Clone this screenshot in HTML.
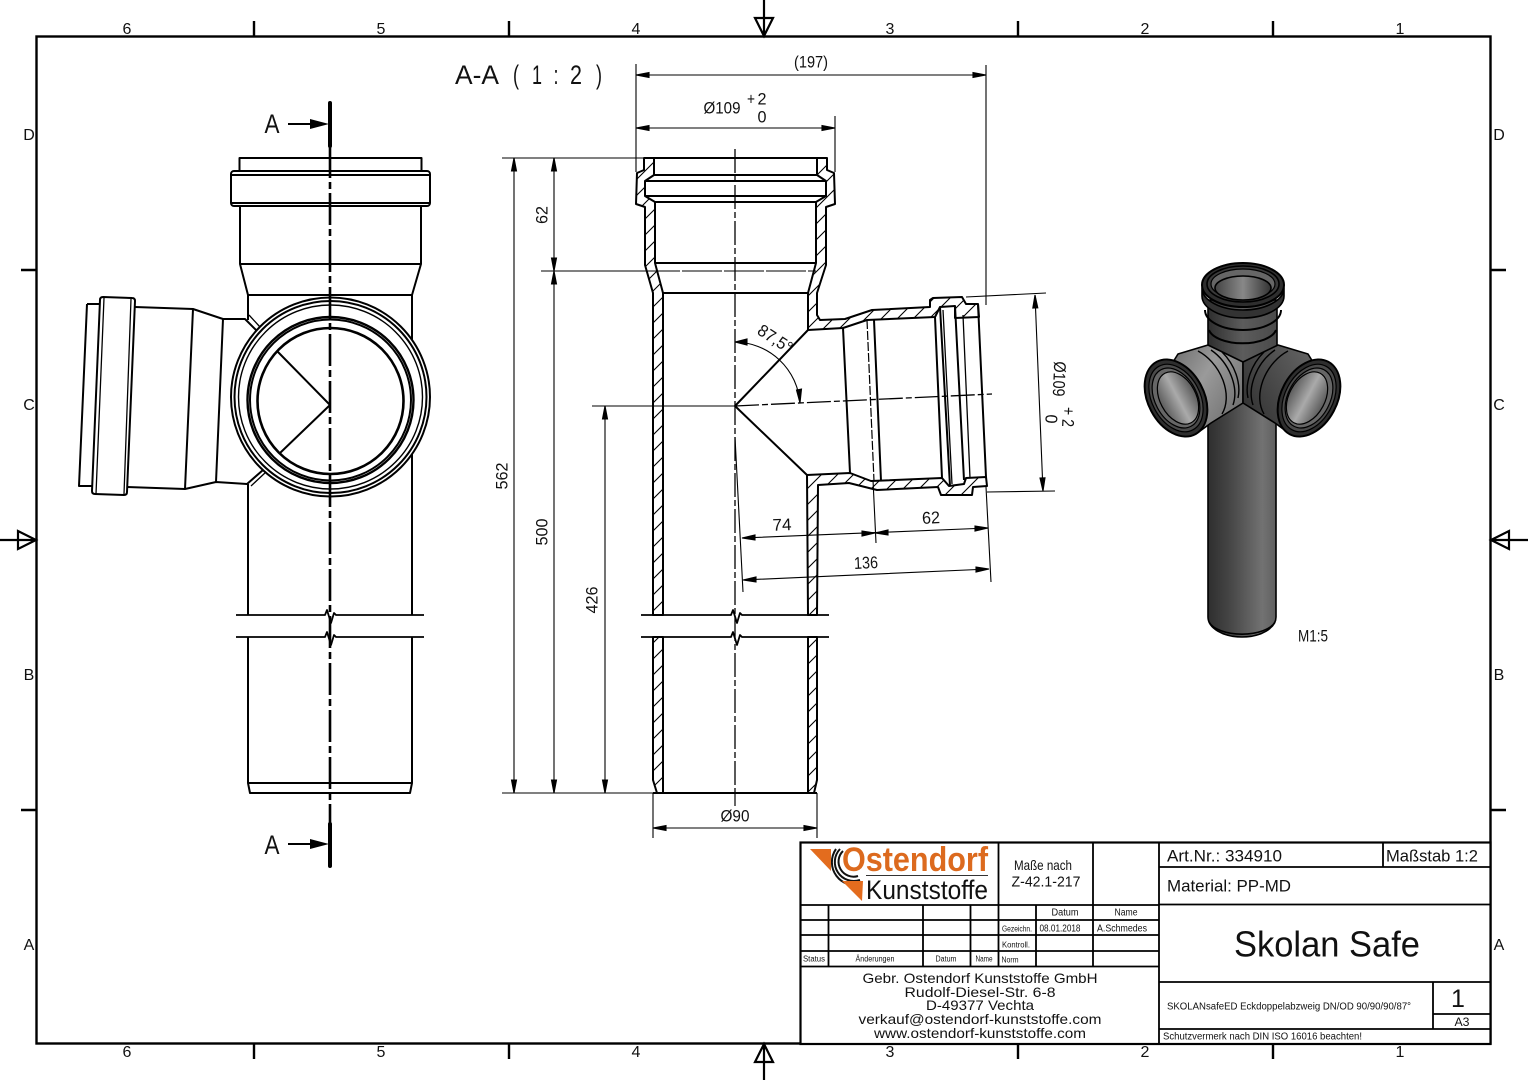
<!DOCTYPE html>
<html><head><meta charset="utf-8"><style>
html,body{margin:0;padding:0;background:#fff}
svg{display:block}
text{font-family:"Liberation Sans",sans-serif;fill:#111;text-anchor:middle;dominant-baseline:central}
.o{fill:none;stroke:#000;stroke-width:2;stroke-linejoin:round}
.t{fill:none;stroke:#000;stroke-width:1.1}
.f{stroke:#000;stroke-width:1.1;fill:#000}
.w{stroke:#000;stroke-width:2;stroke-linejoin:round;fill:url(#h)}
</style></head><body>
<svg width="1528" height="1080" viewBox="0 0 1528 1080" xmlns="http://www.w3.org/2000/svg">
<defs>
<pattern id="h" patternUnits="userSpaceOnUse" width="16" height="16"><path d="M-2 18L18 -2M-2 2L2 -2M14 18L18 14" stroke="#000" stroke-width="1.1"/></pattern>
<linearGradient id="pipe" x1="0" x2="1" y1="0" y2="0"><stop offset="0" stop-color="#2e2e2e"/><stop offset=".35" stop-color="#484848"/><stop offset=".8" stop-color="#727272"/><stop offset="1" stop-color="#606060"/></linearGradient>
<linearGradient id="neck" x1="0" x2="1" y1="0" y2="0"><stop offset="0" stop-color="#2e2e2e"/><stop offset=".5" stop-color="#5c5c5c"/><stop offset="1" stop-color="#4a4a4a"/></linearGradient>
<linearGradient id="arm" x1="0" x2="1" y1="0" y2=".7"><stop offset="0" stop-color="#666"/><stop offset=".5" stop-color="#9a9a9a"/><stop offset="1" stop-color="#707070"/></linearGradient>
<linearGradient id="arm2" x1="1" x2="0" y1="0" y2=".7"><stop offset="0" stop-color="#6a6a6a"/><stop offset=".55" stop-color="#4c4c4c"/><stop offset="1" stop-color="#333"/></linearGradient>
<linearGradient id="hole" x1="0" x2="1" y1="0" y2="0"><stop offset="0" stop-color="#5c5c5c"/><stop offset=".5" stop-color="#aaa"/><stop offset="1" stop-color="#5a5a5a"/></linearGradient>
<linearGradient id="hole2" x1="0" x2="1" y1="0" y2="0"><stop offset="0" stop-color="#444"/><stop offset=".5" stop-color="#888"/><stop offset="1" stop-color="#333"/></linearGradient>
</defs>

<!-- frame -->
<rect x="36.500" y="36.500" width="1454" height="1007" fill="none" stroke="#000" stroke-width="2.400"/>
<path d="M254 21V36M509 21V36M1018 21V36M1273 21V36M254 1044V1059M509 1044V1059M1018 1044V1059M1273 1044V1059M21 270H36M21 810H36M1491 270H1506M1491 810H1506" stroke="#000" stroke-width="2.400" fill="none"/>
<path d="M764 0V36M764 1044V1080M0 540H36M1491 540H1528M755 18H773L764 36ZM755 1062H773L764 1044ZM18 531V549L36 540ZM1509 531V549L1491 540Z" fill="none" stroke="#000" stroke-width="2.200"/>
<g font-size="16">
<text x="127" y="29.500">6</text><text x="381" y="29.500">5</text><text x="636" y="29.500">4</text><text x="890" y="29.500">3</text><text x="1145" y="29.500">2</text><text x="1400" y="29.500">1</text>
<text x="127" y="1052.500">6</text><text x="381" y="1052.500">5</text><text x="636" y="1052.500">4</text><text x="890" y="1052.500">3</text><text x="1145" y="1052.500">2</text><text x="1400" y="1052.500">1</text>
<text x="29" y="135.500">D</text><text x="29" y="405.500">C</text><text x="29" y="675.500">B</text><text x="29" y="945.500">A</text>
<text x="1499" y="135.500">D</text><text x="1499" y="405.500">C</text><text x="1499" y="675.500">B</text><text x="1499" y="945.500">A</text>
</g>

<!-- left view -->
<g class="o">
<rect x="239.500" y="158" width="182" height="13"/>
<rect x="231" y="171" width="199" height="35" rx="3"/>
<path d="M232 175H429M232 203H429"/>
<path d="M240 206V264L248 295M421 206V264L412 295M240 264H421M248 295H412"/>
<path d="M248 295V320M412 295V615M248 484V615M248 637V783L250 793H410L412 783V637M248 783H412"/>
<path d="M236 615H325L327 610L331 623L334 613L336 615H424M236 637H325L327 632L331 645L334 635L336 637H424" stroke-width="1.800"/>
<!-- branch -->
<path d="M87 304L79 486H92M87 304H100"/>
<path d="M100 300Q100 297 103 297L132 298Q135 298 135 301L127 492Q127 495 124 495L95 494Q92 494 92 491Z" fill="#fff"/>
<path d="M104 298L96 494M131 299L124 494" stroke-width="1.300"/>
<path d="M135 307L193 309L223 319L245 319L257 331M127 487L185 489L216 482L247 484L263 470"/>
<path d="M193 309L185 489M223 319L216 482"/>
<path d="M249 315L260 327M251 486L266 472" stroke-width="1.300"/>
<!-- circles -->
<circle cx="330.500" cy="397" r="99.500" fill="#fff"/>
<circle cx="330.500" cy="397" r="96"/>
<circle cx="330.500" cy="397" r="92" stroke-width="1.400"/>
<circle cx="330.500" cy="400" r="83" stroke-width="2.400"/>
<circle cx="330.500" cy="400" r="80.500" stroke-width="2"/>
<circle cx="330.500" cy="401" r="73" stroke-width="2.600"/>
<path d="M278 352L330 405L280 453"/>
</g>
<path d="M330 146V824" stroke="#000" stroke-width="2.600" fill="none" stroke-dasharray="32 4 7 4"/>
<path d="M330 103V146M330 824V866" stroke="#000" stroke-width="4" stroke-linecap="round"/>
<path d="M288 124H312M288 844H312" stroke="#000" stroke-width="2"/>
<path d="M310 119L329 124L310 129ZM310 839L329 844L310 849Z" fill="#000"/>
<text x="272" y="124" font-size="27" textLength="15" lengthAdjust="spacingAndGlyphs">A</text>
<text x="272" y="845" font-size="27" textLength="15" lengthAdjust="spacingAndGlyphs">A</text>

<!-- section -->
<g font-size="27">
<text x="477" y="75" textLength="44" lengthAdjust="spacingAndGlyphs">A-A</text>
<text x="516" y="75" textLength="6" lengthAdjust="spacingAndGlyphs">(</text>
<text x="537" y="75" textLength="10" lengthAdjust="spacingAndGlyphs">1</text>
<text x="556" y="75" textLength="5" lengthAdjust="spacingAndGlyphs">:</text>
<text x="576" y="75" textLength="12" lengthAdjust="spacingAndGlyphs">2</text>
<text x="599" y="75" textLength="6" lengthAdjust="spacingAndGlyphs">)</text>
</g>
<g class="w">
<polygon points="644,158 644,170 637,173 636,204 645,207 645,265 653,293 653,615 663,615 663,293 655,263 655,202 645,196 645,181 654,175 654,158"/>
<polygon points="653,637 653,780 657,793 663,793 663,637"/>
<polygon points="827,158 827,170 834,173 835,204 826,207 826,265 817,293 817,315 820,320 845,319 872,310 930,307 930,300 933,298 962,297 966,304 978,304 979,317 955,318 955,306 940,307 935,317 867,320 843,328 808,330 808,293 816,263 816,202 826,196 826,181 817,175 817,158"/>
<polygon points="807,475 850,473 871,481 942,478 949,486 964,484 966,478 986,477 987,486 973,487 972,495 941,495 938,487 877,490 849,483 818,485 817,615 808,615"/>
<polygon points="808,637 808,793 814,793 817,780 817,637"/>
</g>
<g class="o">
<path d="M644 158H827M654 175H817M645 181H826M645 196H826M655 202H816M655 263H816M663 293H808M653 793H817" />
<path d="M808 330L735 406L807 475"/>
<path d="M843 328L850 473M874 320L881 481M935 317L942 478M940 307L950 486M955 306L964 480M978 304L986 477"/>
<path d="M943 310L952 484M963 315L970 478" stroke-width="1.300"/>
<path d="M641 615H731L733 610L737 623L740 613L742 615H829M641 637H731L733 632L737 645L740 635L742 637H829" stroke-width="1.800"/>
</g>
<path d="M867 320L874 481" stroke="#000" stroke-width="1.200" stroke-dasharray="9 2" fill="none"/>
<path d="M735 149V793" stroke="#000" stroke-width="1.300" fill="none" stroke-dasharray="24 3 6 3"/>
<path d="M735 406L992 394" stroke="#000" stroke-width="1.300" fill="none" stroke-dasharray="24 3 6 3"/>
<path d="M735 793V806" stroke="#000" stroke-width="1.200"/>

<!-- dims -->
<g class="t">
<path d="M636 64V172M986 65V305M835 116V172M636 75H986M636 128H835"/>
<path d="M502 158H644M541 271H640M592 406H735M502 793H653M514 158V793M554 158V793M605 406V793"/>
<path d="M653 793V838M817 793V838M653 828H817"/>
<path d="M966 297L1046 293M987 492L1055 491M1035 295L1043 491"/>
<path d="M735 437L743 592M873 480L876 543M986 487L991 582M742 538L988 528M743 580L989 569"/>
<path d="M735 342A66 66 0 0 1 800 403"/>
<path d="M640 271H816" stroke-dasharray="40 2"/>
</g>
<g class="f">
<path d="M636 75l13-2.500v5zM986 75l-13-2.500v5zM636 128l13-2.500v5zM835 128l-13-2.500v5z"/>
<path d="M514 158l-2.500 13h5zM514 793l-2.500-13h5zM554 158l-2.500 13h5zM554 271l-2.500-13h5zM554 271l-2.500 13h5zM554 793l-2.500-13h5zM605 406l-2.500 13h5zM605 793l-2.500-13h5z"/>
<path d="M653 828l13-2.500v5zM817 828l-13-2.500v5z"/>
<path d="M1035 295l-2.200 13 5-.2zM1043 491l-3-13 5-.2z"/>
<path d="M742 538l13-3v5zM875 533l-13-2v5zM875 533l13-3v5zM988 528l-13-2v5zM743 580l13-3v5zM989 569l-13-2v5z"/>
<path d="M735 342l12-3v6zM800 403l-3.500-13 5-1z"/>
</g>
<g font-size="17">
<text x="811" y="62" textLength="34" lengthAdjust="spacingAndGlyphs">(197)</text>
<text x="722" y="108" textLength="37" lengthAdjust="spacingAndGlyphs">Ø109</text>
<text x="751" y="99" textLength="8" lengthAdjust="spacingAndGlyphs">+</text><text x="762" y="99" textLength="9" lengthAdjust="spacingAndGlyphs">2</text><text x="762" y="117" textLength="9" lengthAdjust="spacingAndGlyphs">0</text>
<text transform="translate(502,476) rotate(-90)" textLength="27" lengthAdjust="spacingAndGlyphs">562</text>
<text transform="translate(542,215) rotate(-90)" textLength="18" lengthAdjust="spacingAndGlyphs">62</text>
<text transform="translate(542,532) rotate(-90)" textLength="27" lengthAdjust="spacingAndGlyphs">500</text>
<text transform="translate(592,600) rotate(-90)" textLength="27" lengthAdjust="spacingAndGlyphs">426</text>
<text x="735" y="816" textLength="29" lengthAdjust="spacingAndGlyphs">Ø90</text>
<text transform="translate(775,339) rotate(33)" textLength="38" lengthAdjust="spacingAndGlyphs">87,5°</text>
<text transform="translate(782,525) rotate(-2.500)" textLength="19" lengthAdjust="spacingAndGlyphs">74</text>
<text transform="translate(931,518) rotate(-2.500)" textLength="18" lengthAdjust="spacingAndGlyphs">62</text>
<text transform="translate(866,563) rotate(-2.500)" textLength="24" lengthAdjust="spacingAndGlyphs">136</text>
<text transform="translate(1059,379) rotate(92.500)" textLength="35" lengthAdjust="spacingAndGlyphs">Ø109</text>
<text transform="translate(1068,417) rotate(92.500)" textLength="20" lengthAdjust="spacingAndGlyphs">+ 2</text>
<text transform="translate(1051,419) rotate(92.500)" textLength="9" lengthAdjust="spacingAndGlyphs">0</text>
</g>

<!-- 3D -->
<g stroke="#000" stroke-width="1.600" stroke-linejoin="round">
<path d="M1208 400V617A34 20 0 0 0 1276 617V400Z" fill="url(#pipe)"/>
<path d="M1209 622A34 16 0 0 0 1275 622" fill="none"/>
<path d="M1208 300V350L1243 372L1277 350V300Z" fill="url(#neck)"/>
<path d="M1205 310A38 20 0 0 0 1281 310M1209 330A34 16 0 0 0 1276 330" fill="none" stroke-width="2"/>
<path d="M1178 354L1208 345L1243 362L1243 403L1211 423L1196 434L1165 375Z" fill="url(#arm)"/>
<path d="M1308 354L1278 345L1243 362L1243 403L1275 423L1290 434L1321 375Z" fill="url(#arm2)"/>
<path d="M1198 351A30 42 -32 0 1 1222 414M1211 350A30 42 -32 0 1 1233 405M1222 352A30 42 -32 0 1 1238 398" fill="none" stroke-width="1.400"/>
<path d="M1288 351A30 42 32 0 0 1264 414M1275 350A30 42 32 0 0 1253 405M1264 352A30 42 32 0 0 1248 398" fill="none" stroke-width="1.400"/>
<ellipse cx="1243" cy="285" rx="41" ry="22" fill="#2e2e2e" stroke-width="2"/>
<path d="M1202 288A41 22 0 0 0 1284 288V296A41 22 0 0 1 1202 296Z" fill="#333"/>
<ellipse cx="1243" cy="284" rx="36" ry="18" fill="#3a3a3a"/>
<ellipse cx="1243" cy="284" rx="32" ry="15" fill="#666" stroke-width="1.200"/>
<ellipse cx="1243" cy="288" rx="28" ry="12" fill="url(#hole2)"/>
<ellipse cx="1176" cy="398" rx="28" ry="41" transform="rotate(-28 1176 398)" fill="#2e2e2e" stroke-width="2"/>
<ellipse cx="1176" cy="398" rx="24" ry="36" transform="rotate(-28 1176 398)" fill="#4a4a4a" stroke-width="1.200"/>
<ellipse cx="1176" cy="398" rx="21" ry="32" transform="rotate(-28 1176 398)" fill="#666" stroke-width="1.200"/>
<ellipse cx="1178" cy="398" rx="18" ry="28" transform="rotate(-28 1178 398)" fill="url(#hole)" stroke-width="1.200"/>
<ellipse cx="1309" cy="398" rx="28" ry="41" transform="rotate(28 1309 398)" fill="#2e2e2e" stroke-width="2"/>
<ellipse cx="1309" cy="398" rx="24" ry="36" transform="rotate(28 1309 398)" fill="#4a4a4a" stroke-width="1.200"/>
<ellipse cx="1309" cy="398" rx="21" ry="32" transform="rotate(28 1309 398)" fill="#666" stroke-width="1.200"/>
<ellipse cx="1307" cy="398" rx="18" ry="28" transform="rotate(28 1307 398)" fill="url(#hole)" stroke-width="1.200"/>
</g>
<text x="1313" y="636" font-size="17" textLength="30" lengthAdjust="spacingAndGlyphs">M1:5</text>

<!-- title block -->
<rect x="800" y="842" width="691" height="202" fill="#fff" stroke="none"/>
<g fill="none" stroke="#000" stroke-width="1.800">
<rect x="800.500" y="842.500" width="690" height="201.500" stroke-width="2.200"/>
<path d="M800 905H1159M800 920H1159M800 935H1159M800 951H1159M800 966.500H1159"/>
<path d="M828.500 905V966M923 905V966M970.500 905V966M998.500 842V966M1036 905V966M1093 842V966M1159 842V1044"/>
<path d="M1159 867H1491M1159 904.500H1491M1159 982H1491M1159 1029H1491M1383 842V867M1433 982V1029M1433 1014H1491"/>
</g>
<!-- logo -->
<g fill="none" stroke="#111" stroke-width="2">
<path d="M843 851A15 15 0 0 0 858 876"/>
<path d="M840 849A19 19 0 0 0 860 880"/>
<path d="M836 849A23 23 0 0 0 862 884"/>
</g>
<path d="M810 849H831V871Z" fill="#e36c1e"/>
<path d="M842 881H863L862 901Z" fill="#e36c1e"/>
<path d="M866 875.500H988" stroke="#333" stroke-width="1"/>
<text x="915" y="860" font-size="34" font-weight="bold" style="fill:#dc6a1e" textLength="146" lengthAdjust="spacingAndGlyphs">Ostendorf</text>
<text x="927" y="890" font-size="27" textLength="122" lengthAdjust="spacingAndGlyphs">Kunststoffe</text>

<text x="1043" y="865" font-size="14" textLength="58" lengthAdjust="spacingAndGlyphs">Maße nach</text>
<text x="1046" y="882" font-size="15" textLength="69" lengthAdjust="spacingAndGlyphs">Z-42.1-217</text>
<text x="1065" y="913" font-size="10" textLength="27" lengthAdjust="spacingAndGlyphs">Datum</text>
<text x="1126" y="913" font-size="10" textLength="23" lengthAdjust="spacingAndGlyphs">Name</text>
<text x="1017" y="929" font-size="8" textLength="30" lengthAdjust="spacingAndGlyphs">Gezeichn.</text>
<text x="1060" y="929" font-size="10" textLength="41" lengthAdjust="spacingAndGlyphs">08.01.2018</text>
<text x="1122" y="929" font-size="10" textLength="50" lengthAdjust="spacingAndGlyphs">A.Schmedes</text>
<text x="1016" y="945" font-size="8" textLength="28" lengthAdjust="spacingAndGlyphs">Kontroll.</text>
<text x="814" y="959" font-size="8" textLength="22" lengthAdjust="spacingAndGlyphs">Status</text>
<text x="875" y="959" font-size="8" textLength="39" lengthAdjust="spacingAndGlyphs">Änderungen</text>
<text x="946" y="959" font-size="8" textLength="21" lengthAdjust="spacingAndGlyphs">Datum</text>
<text x="984" y="959" font-size="8" textLength="17" lengthAdjust="spacingAndGlyphs">Name</text>
<text x="1010" y="960" font-size="8" textLength="17" lengthAdjust="spacingAndGlyphs">Norm</text>
<g font-size="14">
<text x="980" y="978" textLength="235" lengthAdjust="spacingAndGlyphs">Gebr. Ostendorf Kunststoffe GmbH</text>
<text x="980" y="992" textLength="151" lengthAdjust="spacingAndGlyphs">Rudolf-Diesel-Str. 6-8</text>
<text x="980" y="1005" textLength="108" lengthAdjust="spacingAndGlyphs">D-49377 Vechta</text>
<text x="980" y="1019" textLength="243" lengthAdjust="spacingAndGlyphs">verkauf@ostendorf-kunststoffe.com</text>
<text x="980" y="1033" textLength="212" lengthAdjust="spacingAndGlyphs">www.ostendorf-kunststoffe.com</text>
</g>
<text x="1224.500" y="856" font-size="17" textLength="115" lengthAdjust="spacingAndGlyphs">Art.Nr.: 334910</text>
<text x="1432" y="856" font-size="17" textLength="92" lengthAdjust="spacingAndGlyphs">Maßstab 1:2</text>
<text x="1229" y="886" font-size="17" textLength="124" lengthAdjust="spacingAndGlyphs">Material: PP-MD</text>
<text x="1327" y="944" font-size="36" textLength="186" lengthAdjust="spacingAndGlyphs">Skolan Safe</text>
<text x="1289" y="1007" font-size="10" textLength="244" lengthAdjust="spacingAndGlyphs">SKOLANsafeED Eckdoppelabzweig DN/OD 90/90/90/87°</text>
<text x="1458" y="999" font-size="25">1</text>
<text x="1462" y="1022" font-size="12" textLength="15" lengthAdjust="spacingAndGlyphs">A3</text>
<text x="1262.500" y="1037" font-size="10" textLength="199" lengthAdjust="spacingAndGlyphs">Schutzvermerk nach DIN ISO 16016 beachten!</text>
</svg>
</body></html>
